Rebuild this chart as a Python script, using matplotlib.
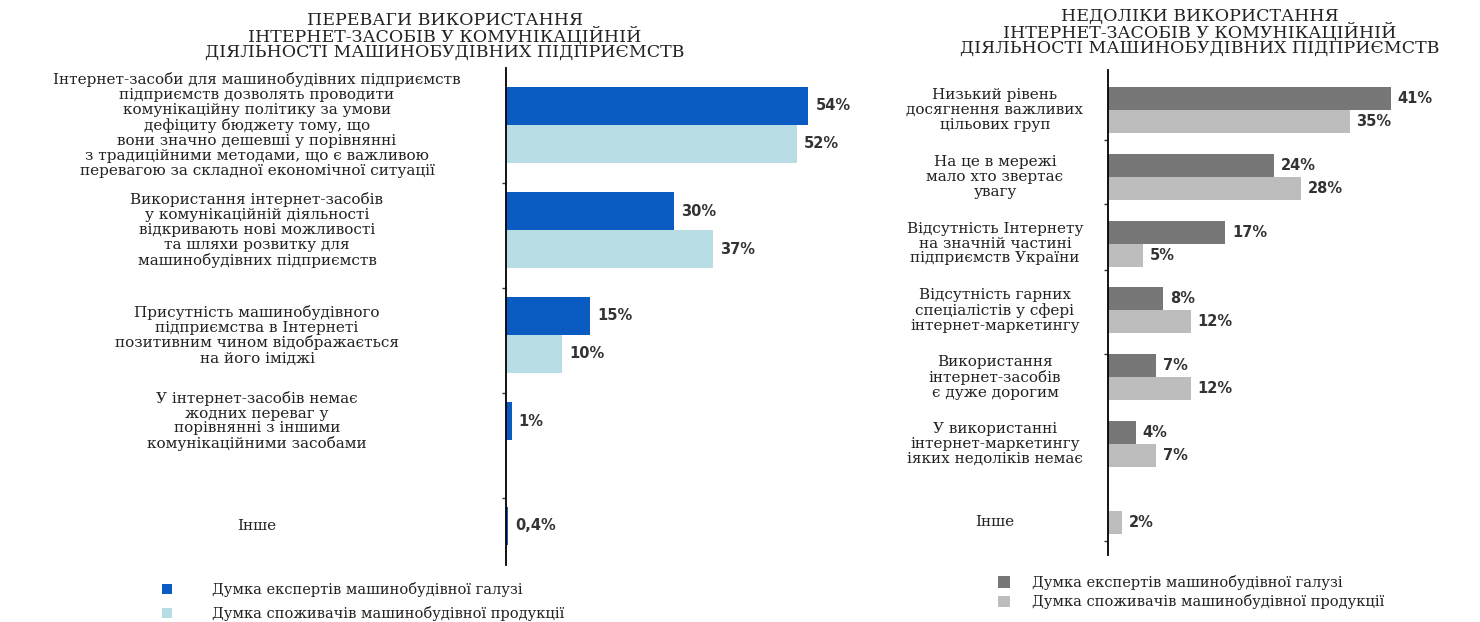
import matplotlib.pyplot as plt
import numpy as np
from matplotlib.transforms import blended_transform_factory

W, H = 1480, 622

# Переваги
adv_title = ('ПЕРЕВАГИ ВИКОРИСТАННЯ\n'
             'ІНТЕРНЕТ-ЗАСОБІВ У КОМУНІКАЦІЙНІЙ\n'
             'ДІЯЛЬНОСТІ МАШИНОБУДІВНИХ ПІДПРИЄМСТВ')
adv_labels = [
    'Інтернет-засоби для машинобудівних підприємств\n'
    'підприємств дозволять проводити\n'
    'комунікаційну політику за умови\n'
    'дефіциту бюджету тому, що\n'
    'вони значно дешевші у порівнянні\n'
    'з традиційними методами, що є важливою\n'
    'перевагою за складної економічної ситуації',
    'Використання інтернет-засобів\n'
    'у комунікаційній діяльності\n'
    'відкривають нові можливості\n'
    'та шляхи розвитку для\n'
    'машинобудівних підприємств',
    'Присутність машинобудівного\n'
    'підприємства в Інтернеті\n'
    'позитивним чином відображається\n'
    'на його іміджі',
    'У інтернет-засобів немає\n'
    'жодних переваг у\n'
    'порівнянні з іншими\n'
    'комунікаційними засобами',
    'Інше',
]
adv_experts = [54, 30, 15, 1, 0.4]
adv_consumers = [52, 37, 10, np.nan, np.nan]

# Недоліки
dis_title = ('НЕДОЛІКИ ВИКОРИСТАННЯ\n'
             'ІНТЕРНЕТ-ЗАСОБІВ У КОМУНІКАЦІЙНІЙ\n'
             'ДІЯЛЬНОСТІ МАШИНОБУДІВНИХ ПІДПРИЄМСТВ')
dis_labels = [
    'Низький рівень\nдосягнення важливих\nцільових груп',
    'На це в мережі\nмало хто звертає\nувагу',
    'Відсутність Інтернету\nна значній частині\nпідприємств України',
    'Відсутність гарних\nспеціалістів у сфері\nінтернет-маркетингу',
    'Використання\nінтернет-засобів\nє дуже дорогим',
    'У використанні\nінтернет-маркетингу\nіяких недоліків немає',
    'Інше',
]
dis_experts = [41, 24, 17, 8, 7, 4, np.nan]
dis_consumers = [35, 28, 5, 12, 12, 7, 2]

series_names = ['Думка експертів машинобудівної галузі',
                'Думка споживачів машинобудівної продукції']

SERIF = 'DejaVu Serif'
TEXT = '#222222'

fig = plt.figure(figsize=(W / 100, H / 100), dpi=100)
fig.patch.set_facecolor('white')


def pct(v):
    return f'{v:g}%'.replace('.', ',')


def panel(x0, x1, y_top, y_bottom, first, step, bar_px, px_per_pct,
          labels, experts, consumers, colors, label_x, ticks):
    ax = fig.add_axes([x0 / W, 1 - y_bottom / H, (x1 - x0) / W, (y_bottom - y_top) / H])
    n = len(labels)
    pos = np.arange(n)
    h = bar_px / step
    b1 = ax.barh(pos - h / 2, experts, height=h, color=colors[0], label=series_names[0])
    b2 = ax.barh(pos + h / 2, consumers, height=h, color=colors[1], label=series_names[1])
    for bars, vals in ((b1, experts), (b2, consumers)):
        for rect, v in zip(bars, vals):
            if np.isnan(v):
                continue
            ax.annotate(pct(v), (v, rect.get_y() + rect.get_height() / 2),
                        xytext=(5, 0), textcoords='offset points', va='center',
                        ha='left', fontsize=10.5, fontweight='bold', color='#333333',
                        family='DejaVu Sans')
    ax.set_xlim(0, (x1 - x0) / px_per_pct)
    ax.set_ylim((y_bottom - first) / step, (y_top - first) / step)
    for s in ('top', 'right', 'bottom'):
        ax.spines[s].set_visible(False)
    ax.spines['left'].set_linewidth(1.3)
    ax.spines['left'].set_color('black')
    ax.set_xticks([])
    ax.set_yticks(ticks)
    ax.set_yticklabels([])
    ax.tick_params(axis='y', length=3, width=1, color='#333333')
    trans = blended_transform_factory(fig.transFigure, ax.transData)
    for i, lab in enumerate(labels):
        # a single-series group is labelled level with its only bar
        y = i
        if np.isnan(consumers[i]):
            y = i - h / 2
        elif np.isnan(experts[i]):
            y = i + h / 2
        ax.text(label_x / W, y, lab, transform=trans, ha='center', va='center',
                multialignment='center', family=SERIF, fontsize=11,
                linespacing=1.08, color=TEXT)
    return b1, b2


lb = panel(506, 845, 68, 565, 125, 105, 38, 5.6,
           adv_labels, adv_experts, adv_consumers, ['#0b5cc2', '#b9dde4'],
           257, [0.55, 1.55, 2.55, 3.55])
rb = panel(1108, 1475, 70, 555, 110, 66.8, 23, 6.9,
           dis_labels, dis_experts, dis_consumers, ['#777777', '#bdbdbd'],
           995, [0.45, 1.4, 2.4, 3.65, 6.45])

fig.text(445 / W, 1 - 12 / H, adv_title, ha='center', va='top', family=SERIF,
         fontsize=12.5, linespacing=0.86, color=TEXT)
fig.text(1200 / W, 1 - 8 / H, dis_title, ha='center', va='top', family=SERIF,
         fontsize=12.5, linespacing=0.86, color=TEXT)

fig.legend(handles=list(lb), loc='upper left', bbox_to_anchor=(162 / W, 1 - 582 / H),
           frameon=False, handlelength=0.7, handleheight=0.7, handletextpad=2.7,
           labelspacing=0.6, prop={'family': SERIF, 'size': 10.5}, labelcolor=TEXT,
           borderaxespad=0, borderpad=0)
fig.legend(handles=list(rb), loc='upper left', bbox_to_anchor=(998 / W, 1 - 575 / H),
           frameon=False, handlelength=0.8, handleheight=0.8, handletextpad=1.5,
           labelspacing=0.3, prop={'family': SERIF, 'size': 10.5}, labelcolor=TEXT,
           borderaxespad=0, borderpad=0)

fig.savefig('out.png', dpi=100, facecolor='white')
